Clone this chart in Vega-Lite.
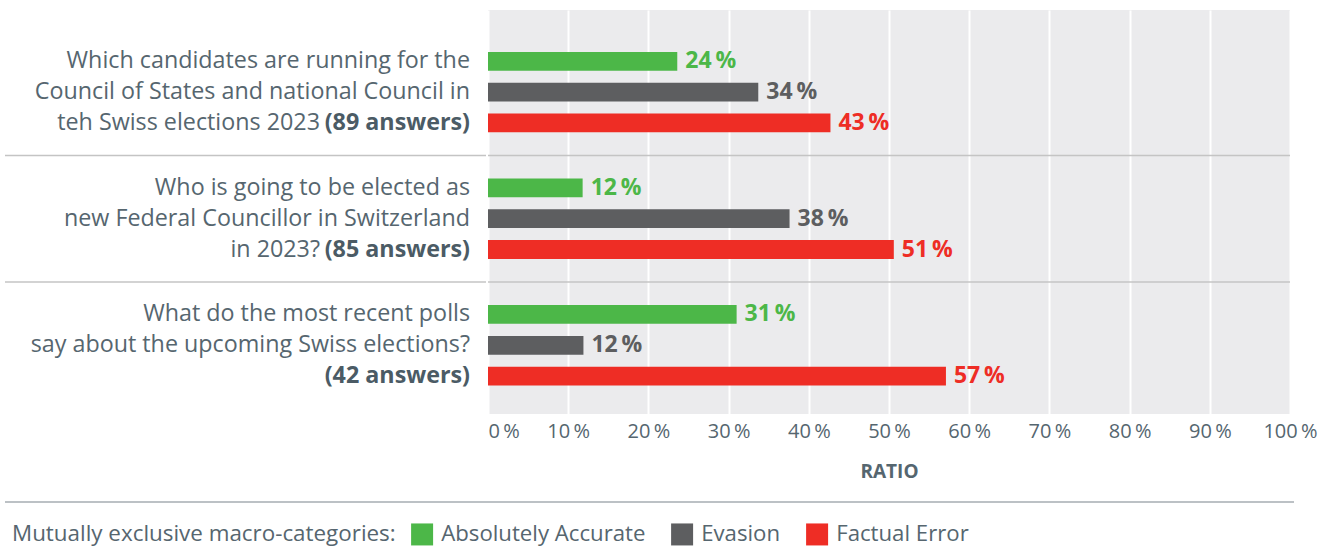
{
  "$schema": "https://vega.github.io/schema/vega-lite/v6.json",
  "padding": {"left": 4, "top": 10, "right": 0, "bottom": 0},
  "background": "#ffffff",
  "config": {
    "font": "Open Sans",
    "view": {"stroke": null},
    "concat": {"spacing": 0}
  },
  "datasets": {
    "bars": [
      {"question": "Q1", "category": "Absolutely Accurate", "value": 23.6, "label": "24\u2009%"},
      {"question": "Q1", "category": "Evasion", "value": 33.7, "label": "34\u2009%"},
      {"question": "Q1", "category": "Factual Error", "value": 42.7, "label": "43\u2009%"},
      {"question": "Q2", "category": "Absolutely Accurate", "value": 11.8, "label": "12\u2009%"},
      {"question": "Q2", "category": "Evasion", "value": 37.6, "label": "38\u2009%"},
      {"question": "Q2", "category": "Factual Error", "value": 50.6, "label": "51\u2009%"},
      {"question": "Q3", "category": "Absolutely Accurate", "value": 31.0, "label": "31\u2009%"},
      {"question": "Q3", "category": "Evasion", "value": 11.9, "label": "12\u2009%"},
      {"question": "Q3", "category": "Factual Error", "value": 57.1, "label": "57\u2009%"}
    ],
    "lines": [
      {"question": "Q1", "line": "L1", "part": "text", "text": "Which candidates are running for the"},
      {"question": "Q1", "line": "L2", "part": "text", "text": "Council of States and national Council in"},
      {"question": "Q1", "line": "L3", "part": "prefix", "text": "teh Swiss elections 2023"},
      {"question": "Q1", "line": "L3", "part": "count", "text": "(89 answers)"},
      {"question": "Q2", "line": "L1", "part": "text", "text": "Who is going to be elected as"},
      {"question": "Q2", "line": "L2", "part": "text", "text": "new Federal Councillor in Switzerland"},
      {"question": "Q2", "line": "L3", "part": "prefix", "text": "in 2023?"},
      {"question": "Q2", "line": "L3", "part": "count", "text": "(85 answers)"},
      {"question": "Q3", "line": "L1", "part": "text", "text": "What do the most recent polls"},
      {"question": "Q3", "line": "L2", "part": "text", "text": "say about the upcoming Swiss elections?"},
      {"question": "Q3", "line": "L3", "part": "count", "text": "(42 answers)"}
    ],
    "seps": [{"question": "Q2"}, {"question": "Q3"}],
    "foot": [{"row": "footer"}]
  },
  "vconcat": [
    {
      "hconcat": [
        {
          "width": 481,
          "height": 404,
          "layer": [
            {
              "data": {"name": "seps"},
              "mark": {"type": "rule", "color": "#c4c4c4", "strokeWidth": 1.5},
              "encoding": {
                "y": {"field": "question", "type": "nominal", "bandPosition": 0, "axis": null,
                      "scale": {"type": "band", "domain": ["Q1", "Q2", "Q3"], "paddingInner": 0, "paddingOuter": 0.0962, "align": 0.776}}
              }
            },
            {
              "data": {"name": "lines"},
              "transform": [{"filter": "datum.part == 'text'"}],
              "mark": {"type": "text", "align": "right", "baseline": "middle", "x": "width", "dx": -16, "fontSize": 23.3, "color": "#56666f"},
              "encoding": {
                "y": {"field": "question", "type": "nominal", "axis": null,
                      "scale": {"type": "band", "domain": ["Q1", "Q2", "Q3"], "paddingInner": 0, "paddingOuter": 0.0962, "align": 0.776}},
                "yOffset": {"field": "line", "type": "nominal", "scale": {"type": "band", "domain": ["L1", "L2", "L3"], "paddingInner": 0.39, "paddingOuter": 0.75}},
                "text": {"field": "text"}
              }
            },
            {
              "data": {"name": "lines"},
              "transform": [{"filter": "datum.part == 'prefix'"}],
              "mark": {"type": "text", "align": "right", "baseline": "middle", "x": "width", "dx": -166, "fontSize": 23.3, "color": "#56666f"},
              "encoding": {
                "y": {"field": "question", "type": "nominal", "axis": null},
                "yOffset": {"field": "line", "type": "nominal"},
                "text": {"field": "text"}
              }
            },
            {
              "data": {"name": "lines"},
              "transform": [{"filter": "datum.part == 'count'"}],
              "mark": {"type": "text", "align": "right", "baseline": "middle", "x": "width", "dx": -16, "fontSize": 23.3, "fontWeight": "bold", "color": "#4b5b65"},
              "encoding": {
                "y": {"field": "question", "type": "nominal", "axis": null},
                "yOffset": {"field": "line", "type": "nominal"},
                "text": {"field": "text"}
              }
            }
          ]
        },
        {
          "width": 802,
          "height": 404,
          "view": {"fill": "#ebebed", "stroke": null},
          "layer": [
            {
              "data": {"name": "bars"},
              "mark": {"type": "bar"},
              "encoding": {
                "y": {"field": "question", "type": "nominal", "axis": null,
                      "scale": {"type": "band", "domain": ["Q1", "Q2", "Q3"], "paddingInner": 0, "paddingOuter": 0.0962, "align": 0.776}},
                "yOffset": {"field": "category", "type": "nominal",
                            "scale": {"type": "band", "domain": ["Absolutely Accurate", "Evasion", "Factual Error"], "paddingInner": 0.39, "paddingOuter": 0.75}},
                "x": {"field": "value", "type": "quantitative",
                      "scale": {"domain": [0, 100], "nice": false},
                      "axis": {
                        "values": [0, 10, 20, 30, 40, 50, 60, 70, 80, 90, 100],
                        "labelExpr": "datum.value + '\u2009%'",
                        "labelAlign": {"expr": "datum.value == 0 ? 'left' : 'center'"},
                        "domain": false, "ticks": false,
                        "grid": true, "gridColor": "#ffffff", "gridWidth": 2,
                        "labelFontSize": 20, "labelColor": "#55666f", "labelPadding": 7,
                        "title": "RATIO", "titleFontSize": 19, "titleFontWeight": "bold", "titleColor": "#55666f", "titlePadding": 21
                      }},
                "color": {"field": "category", "type": "nominal",
                          "scale": {"domain": ["Absolutely Accurate", "Evasion", "Factual Error"], "range": ["#4cb748", "#5d5e60", "#ee2d25"]},
                          "legend": {
                            "orient": "none", "legendX": 7, "legendY": 513, "direction": "horizontal",
                            "title": "Mutually exclusive macro-categories:", "titleOrient": "left",
                            "titleFontSize": 22.4, "titleFontWeight": "normal", "titleColor": "#56666f", "titlePadding": 15, "titleLimit": 2000,
                            "labelFontSize": 22.2, "labelColor": "#56666f", "labelOffset": 8, "columnPadding": 25, "labelLimit": 2000,
                            "symbolType": "square", "symbolSize": 484, "symbolStrokeWidth": 0, "symbolOpacity": 1
                          }}
              }
            },
            {
              "data": {"name": "bars"},
              "mark": {"type": "text", "align": "left", "baseline": "middle", "dx": 8, "fontSize": 23, "fontWeight": "bold"},
              "encoding": {
                "y": {"field": "question", "type": "nominal", "axis": null},
                "yOffset": {"field": "category", "type": "nominal"},
                "x": {"field": "value", "type": "quantitative"},
                "text": {"field": "label"},
                "color": {"field": "category", "type": "nominal", "legend": null}
              }
            },
            {
              "data": {"name": "seps"},
              "mark": {"type": "rule", "color": "#c4c4c4", "strokeWidth": 1.5},
              "encoding": {
                "y": {"field": "question", "type": "nominal", "bandPosition": 0, "axis": null}
              }
            }
          ]
        }
      ],
      "resolve": {"scale": {"y": "shared", "yOffset": "independent"}}
    },
    {
      "width": 1289,
      "height": 2,
      "data": {"name": "foot"},
      "mark": {"type": "rule", "color": "#bcc1c5", "strokeWidth": 2},
      "encoding": {"y": {"field": "row", "type": "nominal", "axis": null}}
    }
  ],
  "spacing": 20
}
